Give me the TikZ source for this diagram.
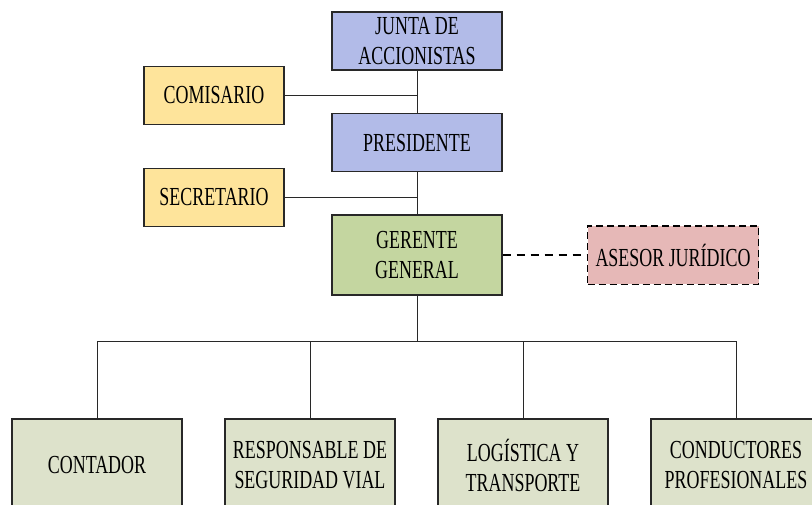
\documentclass[tikz,border=0pt]{standalone}
\usepackage{fontspec}
\setmainfont{Liberation Serif}[FakeStretch=0.69]
\definecolor{cblue}{RGB}{178,187,232}
\definecolor{cyellow}{RGB}{254,228,155}
\definecolor{cgreen}{RGB}{196,214,160}
\definecolor{cpink}{RGB}{230,184,183}
\definecolor{cpale}{RGB}{221,226,203}
\definecolor{cborder}{RGB}{40,40,40}
\begin{document}
\begin{tikzpicture}[x=1pt,y=-1pt,
  box/.style={rectangle,draw=cborder,line width=1.2pt,inner sep=0pt,align=center,
    font=\fontsize{26}{30}\selectfont,text=black},
  topbox/.style={box,fill=cblue,minimum width=170pt,minimum height=58pt},
  sidebox/.style={box,fill=cyellow,minimum width=140pt,minimum height=58pt},
  gerbox/.style={box,fill=cgreen,minimum width=170pt,minimum height=80pt},
  advbox/.style={box,fill=cpink,draw=black,line width=1.5pt,dash pattern=on 7pt off 4pt,minimum width=171pt,minimum height=58.5pt},
  lowbox/.style={box,fill=cpale,minimum width=170pt,minimum height=93pt},
  link/.style={draw=cborder,line width=1pt},
  dlink/.style={draw=black,line width=1.4pt,dash pattern=on 8pt off 6pt}]
\clip (0,0) rectangle (812,504);
\node[topbox] (junta) at (417,41) {JUNTA DE\\ACCIONISTAS};
\node[sidebox] (com) at (214,95.5) {COMISARIO};
\node[topbox] (pres) at (417,142.7) {PRESIDENTE};
\node[sidebox] (sec) at (214,197.5) {SECRETARIO};
\node[gerbox] (ger) at (417,255) {GERENTE\\GENERAL};
\node[advbox] (ase) at (673,255) {ASESOR JURÍDICO};
\node[lowbox] (cont) at (97,465.5) {CONTADOR};
\node[lowbox] (resp) at (310,465.5) {RESPONSABLE DE\\SEGURIDAD VIAL};
\node[lowbox] (log) at (523,465.5) {LOGÍSTICA Y\\TRANSPORTE};
\node[lowbox] (cond) at (736,465.5) {CONDUCTORES\\PROFESIONALES};
\coordinate (bus) at (417,341.7);
\draw[link] (junta.south) -- (pres.north);
\draw[link] (com.east) -- (com.east -| junta.south);
\draw[link] (pres.south) -- (ger.north);
\draw[link] (sec.east) -- (sec.east -| pres.south);
\draw[link] (ger.south) -- (bus);
\draw[link] (cont.north) |- (bus) -| (cond.north);
\draw[link] (resp.north) -- (resp.north |- bus);
\draw[link] (log.north) -- (log.north |- bus);
\draw[dlink] (ger.east) -- (ase.west);
\end{tikzpicture}
\end{document}
